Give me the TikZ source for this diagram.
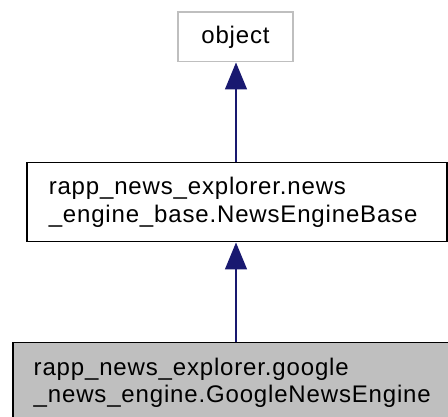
\documentclass[tikz,border=0pt]{standalone}
\usepackage{fontspec}
\setmainfont{Liberation Sans}
\newfontfamily\dotfont[LetterSpace=3.5]{Liberation Sans}
\usetikzlibrary{arrows.meta}
\definecolor{edgeblue}{HTML}{191970}
\definecolor{greyline}{HTML}{BFBFBF}
\definecolor{greyfill}{HTML}{BFBFBF}
\begin{document}
\begin{tikzpicture}[x=1pt,y=-1pt,
  every node/.style={font=\dotfont\fontsize{24}{27.5}\selectfont},
  cls/.style={draw=black, line width=1.5pt, rectangle, inner ysep=0pt, inner xsep=21pt, align=left, anchor=north west},
  inh/.style={draw=edgeblue, line width=1.5pt, -{Triangle[length=27pt,width=22pt]}}]
\useasboundingbox (0,0) rectangle (448,417);
\node[draw=greyline, line width=1.5pt, minimum width=115pt, minimum height=49.5pt, inner sep=0pt] (obj) at (235.5,37) {object};
\node[cls, inner xsep=22pt, minimum width=420pt, minimum height=79pt, text width=376pt] (base) at (26,162) {rapp\_news\_explorer.news\\\_engine\_base.NewsEngineBase};
\node[cls, fill=greyfill, minimum width=445pt, minimum height=80pt, text width=403pt] (derived) at (12,342) {rapp\_news\_explorer.google\\\_news\_engine.GoogleNewsEngine};
\draw[inh] (base.north -| 236,0) -- (obj.south -| 236,0);
\draw[inh] (derived.north -| 236,0) -- (base.south -| 236,0);
\end{tikzpicture}
\end{document}
